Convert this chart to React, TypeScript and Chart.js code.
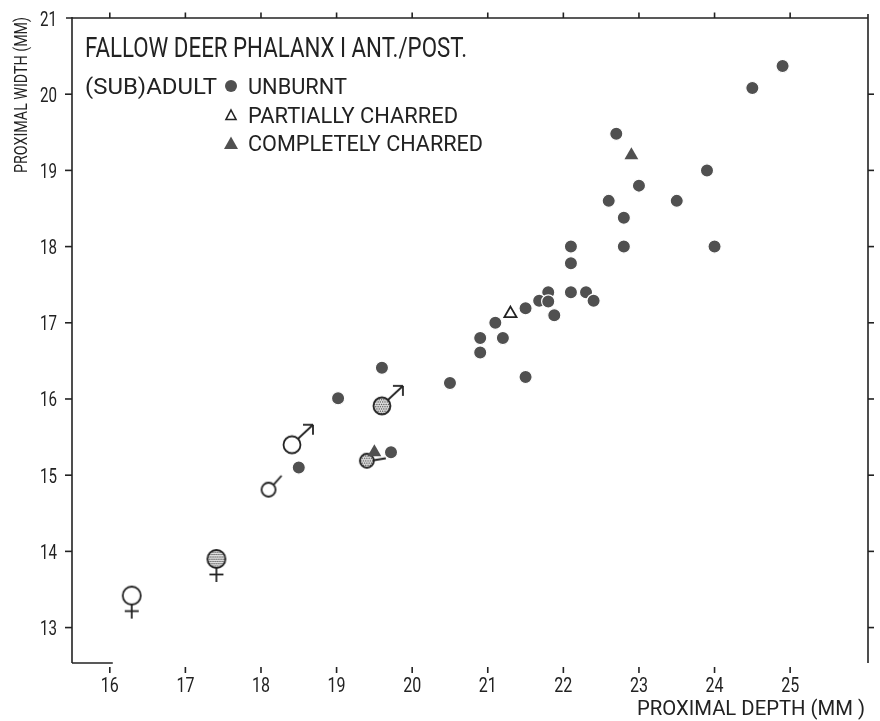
import React, { useEffect, useRef } from 'react';
import { Chart, registerables } from 'chart.js';

Chart.register(...registerables);

// ---------- texts ----------
const TITLE = 'FALLOW DEER PHALANX I ANT./POST.';
const X_TITLE = 'PROXIMAL DEPTH (MM )';
const Y_TITLE = 'PROXIMAL WIDTH (MM)';
const LEGEND_PREFIX = '(SUB)ADULT';
const LEGEND_LABELS = ['UNBURNT', 'PARTIALLY CHARRED', 'COMPLETELY CHARRED'];

// ---------- ticks ----------
const xTickValues = [16, 17, 18, 19, 20, 21, 22, 23, 24, 25];
const yTickValues = [13, 14, 15, 16, 17, 18, 19, 20, 21];

// ---------- data ----------
const unburntX = [24.9, 24.5, 22.7, 23.9, 23.0, 22.6, 23.5, 22.8, 22.1, 22.8, 24.0, 22.1, 22.1, 22.3, 22.4, 21.8, 21.68, 21.8, 21.5, 21.88, 21.1, 20.9, 21.2, 20.9, 21.5, 20.5, 19.6, 19.02, 18.5, 19.72];
const unburntY = [20.37, 20.08, 19.48, 19.0, 18.8, 18.6, 18.6, 18.38, 18.0, 18.0, 18.0, 17.78, 17.4, 17.4, 17.29, 17.4, 17.29, 17.28, 17.19, 17.1, 17.0, 16.8, 16.8, 16.61, 16.29, 16.21, 16.41, 16.01, 15.1, 15.3];
const partialX = [21.3];
const partialY = [17.12];
const completeX = [22.9, 19.5];
const completeY = [19.2, 15.3];
const femaleOpenX = [16.29];
const femaleOpenY = [13.42];
const femaleStippledX = [17.41];
const femaleStippledY = [13.9];
const maleOpenX = [18.41];
const maleOpenY = [15.4];
const maleOpenSmallX = [18.1];
const maleOpenSmallY = [14.81];
const maleStippledX = [19.6];
const maleStippledY = [15.91];
const stippledSmallX = [19.4];
const stippledSmallY = [15.19];

const INK = '#222222';
const DOT = '#505050';
const FONT = 'Roboto, "DejaVu Sans", sans-serif';

const pts = (xs: number[], ys: number[]) => xs.map((x, i) => ({ x, y: ys[i] }));

// draw text fitted (stretched or squeezed) to an exact width
function fitText(ctx: CanvasRenderingContext2D, text: string, x: number, y: number, width: number, align: 'left' | 'center' | 'right' = 'left') {
  const w = ctx.measureText(text).width;
  const s = width / w;
  ctx.save();
  ctx.textAlign = 'left';
  let x0 = x;
  if (align === 'center') x0 = x - width / 2;
  if (align === 'right') x0 = x - width;
  ctx.translate(x0, y);
  ctx.scale(s, 1);
  ctx.fillText(text, 0, 0);
  ctx.restore();
}

function stippleCircle(ctx: CanvasRenderingContext2D, cx: number, cy: number, r: number) {
  ctx.save();
  ctx.beginPath();
  ctx.arc(cx, cy, r, 0, Math.PI * 2);
  ctx.fillStyle = '#e8e8e8';
  ctx.fill();
  ctx.clip();
  ctx.fillStyle = '#4a4a4a';
  let row = 0;
  for (let y = cy - r; y <= cy + r; y += 2.3) {
    const off = row % 2 ? 1.15 : 0;
    for (let x = cx - r + off; x <= cx + r; x += 2.3) {
      ctx.beginPath();
      ctx.arc(x, y, 0.75, 0, Math.PI * 2);
      ctx.fill();
    }
    row++;
  }
  ctx.restore();
}

function makeSymbol(kind: string): HTMLCanvasElement {
  const S = 60;
  const c = document.createElement('canvas');
  c.width = S;
  c.height = S;
  const ctx = c.getContext('2d')!;
  const cx = S / 2;
  const cy = S / 2;
  ctx.strokeStyle = INK;
  ctx.lineWidth = 1.8;
  ctx.lineCap = 'butt';
  const circle = (r: number, stippled: boolean) => {
    if (stippled) stippleCircle(ctx, cx, cy, r);
    else {
      ctx.beginPath();
      ctx.arc(cx, cy, r, 0, Math.PI * 2);
      ctx.fillStyle = '#fff';
      ctx.fill();
    }
    ctx.beginPath();
    ctx.arc(cx, cy, r, 0, Math.PI * 2);
    ctx.stroke();
  };
  const line = (x1: number, y1: number, x2: number, y2: number) => {
    ctx.beginPath();
    ctx.moveTo(x1, y1);
    ctx.lineTo(x2, y2);
    ctx.stroke();
  };
  const c45 = Math.SQRT1_2;
  if (kind === 'femaleOpen' || kind === 'femaleStippled') {
    const r = 9;
    circle(r, kind === 'femaleStippled');
    line(cx, cy + r, cx, cy + r + 14);
    line(cx - 7, cy + r + 6.5, cx + 7, cy + r + 6.5);
  } else if (kind === 'maleOpen' || kind === 'maleStippled') {
    const r = 8.5;
    circle(r, kind === 'maleStippled');
    const tx = cx + 21;
    const ty = cy - 20;
    line(cx + r * c45, cy - r * c45, tx, ty);
    line(tx - 10, ty, tx, ty);
    line(tx, ty, tx, ty + 10);
  } else if (kind === 'maleOpenSmall') {
    const r = 7;
    circle(r, false);
    line(cx + r * c45, cy - r * c45, cx + 13, cy - 14);
  } else if (kind === 'stippledSmall') {
    const r = 7;
    circle(r, true);
    line(cx + r, cy - 0.5, cx + 19, cy - 2.5);
  }
  return c;
}

const framePlugin = {
  id: 'framePlugin',
  beforeDatasetsDraw(chart: any) {
    const { ctx, chartArea } = chart;
    const xs = chart.scales.x;
    const ys = chart.scales.y;
    const L = chartArea.left;
    const R = chartArea.right;
    const T = chartArea.top;
    const B = chartArea.bottom;
    ctx.save();
    ctx.strokeStyle = INK;
    ctx.lineWidth = 1.6;
    ctx.lineCap = 'butt';
    const line = (x1: number, y1: number, x2: number, y2: number) => {
      ctx.beginPath();
      ctx.moveTo(x1, y1);
      ctx.lineTo(x2, y2);
      ctx.stroke();
    };
    // frame
    line(L - 6, T, R, T);
    line(L, T - 1, L, B);
    line(R, T - 4, R, B);
    line(L, B, xs.getPixelForValue(16) + 3, B);
    // x ticks: top (up) and bottom (detached)
    xTickValues.forEach((v) => {
      const x = xs.getPixelForValue(v);
      line(x, T, x, T - 5.5);
      line(x, B + 4, x, B + 10);
    });
    // y ticks left / right
    yTickValues.forEach((v) => {
      if (v >= 21) return;
      const y = ys.getPixelForValue(v);
      line(L, y, L - 7, y);
      line(R, y, R + 6, y);
    });
    ctx.restore();
  },
  afterDatasetsDraw(chart: any) {
    const { ctx, chartArea } = chart;
    const xs = chart.scales.x;
    const ys = chart.scales.y;
    ctx.save();
    ctx.fillStyle = INK;
    ctx.textBaseline = 'alphabetic';
    // tick labels
    ctx.font = `21px ${FONT}`;
    xTickValues.forEach((v) => {
      fitText(ctx, String(v), xs.getPixelForValue(v), chartArea.bottom + 29, 18, 'center');
    });
    yTickValues.forEach((v) => {
      fitText(ctx, String(v), 57, ys.getPixelForValue(v) + 7.5, 17, 'right');
    });
    // axis titles
    ctx.font = `21px ${FONT}`;
    fitText(ctx, X_TITLE, 637, 715, 228);
    ctx.save();
    ctx.translate(27, 95);
    ctx.rotate(-Math.PI / 2);
    ctx.font = `19px ${FONT}`;
    fitText(ctx, Y_TITLE, 0, 0, 156, 'center');
    ctx.restore();
    // title
    ctx.font = `27px ${FONT}`;
    fitText(ctx, TITLE, 85, 57, 382);
    // legend
    ctx.font = `22px ${FONT}`;
    fitText(ctx, LEGEND_PREFIX, 85, 94, 132);
    const widths = [99, 210, 235];
    const rowsY = [94, 123, 151];
    LEGEND_LABELS.forEach((t, i) => fitText(ctx, t, 248, rowsY[i], widths[i]));
    // legend symbols
    ctx.fillStyle = DOT;
    ctx.beginPath();
    ctx.arc(231, 86, 6, 0, Math.PI * 2);
    ctx.fill();
    ctx.strokeStyle = INK;
    ctx.lineWidth = 1.6;
    ctx.beginPath();
    ctx.moveTo(231, 110);
    ctx.lineTo(236, 119.5);
    ctx.lineTo(226, 119.5);
    ctx.closePath();
    ctx.stroke();
    ctx.beginPath();
    ctx.moveTo(231, 136.5);
    ctx.lineTo(238, 149);
    ctx.lineTo(224, 149);
    ctx.closePath();
    ctx.fill();
    ctx.restore();
  },
};

export default function App() {
  const ref = useRef<HTMLCanvasElement | null>(null);
  useEffect(() => {
    if (!ref.current) return;
    const sym = (k: string) => makeSymbol(k);
    const chart = new Chart(ref.current, {
      type: 'scatter',
      data: {
        datasets: [
          {
            label: 'Female (open)',
            data: pts(femaleOpenX, femaleOpenY),
            pointStyle: sym('femaleOpen') as any,
          },
          {
            label: 'Female (stippled)',
            data: pts(femaleStippledX, femaleStippledY),
            pointStyle: sym('femaleStippled') as any,
          },
          {
            label: 'Male (open)',
            data: pts(maleOpenX, maleOpenY),
            pointStyle: sym('maleOpen') as any,
          },
          {
            label: 'Male (open, small)',
            data: pts(maleOpenSmallX, maleOpenSmallY),
            pointStyle: sym('maleOpenSmall') as any,
          },
          {
            label: 'Completely charred',
            data: pts(completeX, completeY),
            pointStyle: 'triangle',
            pointRadius: 8,
            backgroundColor: DOT,
            borderColor: DOT,
            borderWidth: 0,
          },
          {
            label: 'Unburnt',
            data: pts(unburntX, unburntY),
            pointStyle: 'circle',
            pointRadius: 6.6,
            backgroundColor: DOT,
            borderColor: '#ffffff',
            borderWidth: 1.2,
          },
          {
            label: 'Male (stippled)',
            data: pts(maleStippledX, maleStippledY),
            pointStyle: sym('maleStippled') as any,
          },
          {
            label: 'Stippled small',
            data: pts(stippledSmallX, stippledSmallY),
            pointStyle: sym('stippledSmall') as any,
          },
          {
            label: 'Partially charred',
            data: pts(partialX, partialY),
            pointStyle: 'triangle',
            pointRadius: 7,
            backgroundColor: '#ffffff',
            borderColor: INK,
            borderWidth: 1.8,
          },
        ],
      },
      options: {
        animation: false,
        responsive: false,
        maintainAspectRatio: false,
        events: [],
        layout: { padding: { left: 72, top: 18, right: 12, bottom: 58 } },
        scales: {
          x: { type: 'linear', min: 15.5, max: 26.03, display: false },
          y: { type: 'linear', min: 12.535, max: 21, display: false },
        },
        plugins: {
          legend: { display: false },
          tooltip: { enabled: false },
        },
      },
      plugins: [framePlugin],
    });
    return () => chart.destroy();
  }, []);
  return (
    <div style={{ position: 'fixed', left: 0, top: 0, width: 880, height: 721, background: '#fff' }}>
      <canvas ref={ref} width={880} height={721} style={{ display: 'block', width: 880, height: 721 }} />
    </div>
  );
}
